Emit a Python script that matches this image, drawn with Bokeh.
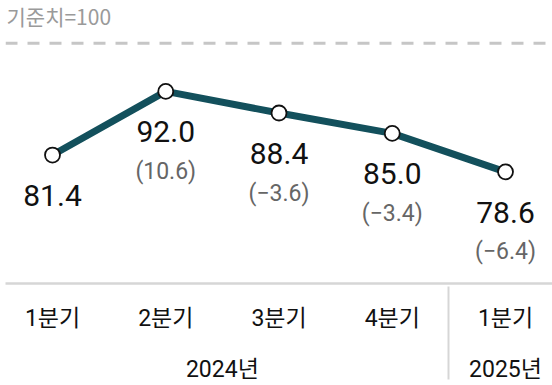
from bokeh.plotting import figure
from bokeh.models import FactorRange, Range1d, Span, Label, ColumnDataSource
from bokeh.core.properties import value
from bokeh.embed import file_html
from bokeh.resources import INLINE

# ---- data ----
years = ["2024년", "2024년", "2024년", "2024년", "2025년"]
quarters = ["1분기", "2분기", "3분기", "4분기", "1분기"]
values = [81.4, 92.0, 88.4, 85.0, 78.6]
changes = [None, 10.6, -3.6, -3.4, -6.4]
baseline = 100
baseline_label = "기준치=100"

FONT = "Roboto, Noto Sans CJK KR"
KFONT = "Noto Sans CJK KR"

factors = list(zip(years, quarters))
value_text = [f"{v:.1f}" for v in values]
change_text = ["" if c is None else "(" + f"{c:.1f}".replace("-", "\u2212") + ")" for c in changes]

src = ColumnDataSource(dict(x=factors, y=values, vt=value_text, ct=change_text))

x_range = FactorRange(*factors, group_padding=0, factor_padding=0,
                      range_padding=-0.085, range_padding_units="absolute")

p = figure(width=552, height=385, x_range=x_range, y_range=Range1d(60.0, 107.14),
           output_backend="svg", toolbar_location=None,
           min_border_left=5, min_border_right=0, min_border_top=0, min_border_bottom=100)

p.yaxis.visible = False
p.grid.visible = False
p.outline_line_color = None
p.background_fill_color = "white"

ax = p.xaxis[0]
ax.axis_line_color = "#d6d6d6"
ax.axis_line_width = 2.5
ax.major_tick_line_color = None
ax.major_tick_out = -4
ax.major_tick_in = 0
ax.major_label_standoff = 21
ax.major_label_text_font = FONT
ax.major_label_text_font_size = "23px"
ax.major_label_text_color = "#111111"
ax.group_text_font = FONT
ax.group_text_font_size = "23px"
ax.group_text_color = "#111111"
ax.group_text_font_style = "normal"
ax.separator_line_color = "#d6d6d6"
ax.separator_line_width = 2

p.add_layout(Span(location=baseline, dimension="width", line_color="#c6c6c6",
                  line_width=3, line_dash="12 10"))
p.add_layout(Label(x=1, y=baseline, x_units="screen", y_units="data", text=baseline_label,
                   y_offset=27, text_baseline="middle", text_font=KFONT,
                   text_font_size="21px", text_color="#9a9a9a"))

p.line(x="x", y="y", source=src, line_color="#13505c", line_width=7)
p.scatter(x="x", y="y", source=src, size=15, fill_color="white",
          line_color="#111111", line_width=1.8)

p.text(x="x", y="y", text="vt", source=src, text_font=value(FONT), text_font_size="30px",
       text_color="#111111", text_align="center", text_baseline="middle", y_offset=40.5)
p.text(x="x", y="y", text="ct", source=src, text_font=value(FONT), text_font_size="23px",
       text_color="#666666", text_align="center", text_baseline="middle", y_offset=80)

open("out.html", "w").write(file_html(p, INLINE))
